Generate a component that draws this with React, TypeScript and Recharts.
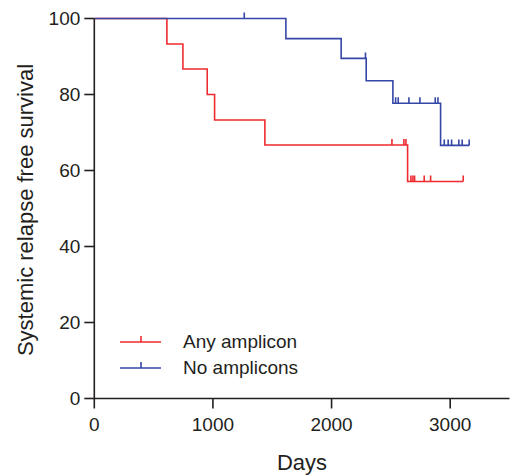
import React from "react"
import { LineChart, Line, XAxis, YAxis, Legend } from "recharts"

const xTicks = [0, 1000, 2000, 3000]
const yTicks = [0, 20, 40, 60, 80, 100]

// Any amplicon: step times (days) and survival (%) after each step
const anyTimes = [0, 612, 747, 952, 1014, 1438, 2641]
const anySurvival = [100, 93.3, 86.7, 80, 73.3, 66.7, 57.1]
const anyCensored = [2509, 2610, 2627, 2669, 2686, 2700, 2781, 2835, 3110]

// No amplicons
const noneTimes = [0, 1615, 2081, 2292, 2517, 2919]
const noneSurvival = [100, 94.7, 89.5, 83.6, 77.7, 66.6]
const noneCensored = [1264, 2286, 2540, 2562, 2652, 2745, 2874, 2897, 2950, 2983, 3012, 3073, 3101, 3160]

const RED = "#ee2b2e"
const BLUE = "#3447a6"
const INK = "#231f20"
const FONT = "'Liberation Sans', Arial, Helvetica, sans-serif"

type Pt = { x: number; y: number; censored: boolean }

function buildCurve(times: number[], surv: number[], censored: number[]): Pt[] {
  const pts: Pt[] = times.map((t, i) => ({ x: t, y: surv[i], censored: false }))
  censored.forEach((t) => {
    let y = surv[0]
    times.forEach((et, i) => {
      if (et <= t) y = surv[i]
    })
    pts.push({ x: t, y, censored: true })
  })
  return pts.sort((a, b) => a.x - b.x)
}

const anyData = buildCurve(anyTimes, anySurvival, anyCensored)
const noneData = buildCurve(noneTimes, noneSurvival, noneCensored)

function censorDot(color: string) {
  return (props: any) => {
    const { cx, cy, payload, index } = props
    if (!payload || !payload.censored) return <g key={`n-${index}`} />
    return <line key={`c-${index}`} x1={cx} x2={cx} y1={cy - 6} y2={cy} stroke={color} strokeWidth={1.6} />
  }
}

function LegendBox(props: any) {
  const payload = props.payload || []
  return (
    <div style={{ fontFamily: FONT, fontSize: 19, color: INK }}>
      {payload.map((p: any) => (
        <div key={p.value} style={{ display: "flex", alignItems: "center", height: 26 }}>
          <svg width={41} height={26} style={{ display: "block" }}>
            <line x1={0} x2={41} y1={13} y2={13} stroke={p.color} strokeWidth={1.6} />
            <line x1={21} x2={21} y1={7} y2={13} stroke={p.color} strokeWidth={1.6} />
          </svg>
          <span style={{ marginLeft: 22, lineHeight: "26px" }}>{p.value}</span>
        </div>
      ))}
    </div>
  )
}

export default function App() {
  const axisStyle = { stroke: INK, strokeWidth: 1.6 }
  const tickStyle = { fill: INK, fontSize: 19, fontFamily: FONT }
  return (
    <div style={{ position: "absolute", left: 0, top: 0, background: "#fff" }}>
      <LineChart width={514} height={476} margin={{ top: 18.5, right: 4.5, left: 0, bottom: 0 }}>
        <XAxis
          dataKey="x"
          type="number"
          domain={[0, 3500]}
          ticks={xTicks}
          allowDataOverflow
          height={77.5}
          tickSize={10}
          tickMargin={9.5}
          axisLine={axisStyle}
          tickLine={axisStyle}
          tick={tickStyle}
          label={{
            content: () => (
              <text x={302} y={470} textAnchor="middle" fill={INK} fontSize={22} fontFamily={FONT}>
                Days
              </text>
            ),
          }}
        />
        <YAxis
          type="number"
          domain={[0, 100]}
          ticks={yTicks}
          width={94.3}
          tickSize={10}
          tickMargin={4}
          axisLine={axisStyle}
          tickLine={axisStyle}
          tick={tickStyle}
          label={{
            content: () => (
              <text
                x={25}
                y={210}
                transform="rotate(-90 25 210)"
                textAnchor="middle"
                dominantBaseline="central"
                fill={INK}
                fontSize={22}
                fontFamily={FONT}
              >
                Systemic relapse free survival
              </text>
            ),
          }}
        />
        <Legend
          layout="vertical"
          align="center"
          verticalAlign="middle"
          content={<LegendBox />}
          wrapperStyle={{ left: 120, top: 329, width: 220, height: 52 }}
        />
        <Line
          name="Any amplicon"
          data={anyData}
          dataKey="y"
          type="stepAfter"
          stroke={RED}
          strokeWidth={1.6}
          dot={censorDot(RED)}
          activeDot={false}
          isAnimationActive={false}
        />
        <Line
          name="No amplicons"
          data={noneData}
          dataKey="y"
          type="stepAfter"
          stroke={BLUE}
          strokeWidth={1.6}
          dot={censorDot(BLUE)}
          activeDot={false}
          isAnimationActive={false}
        />
      </LineChart>
    </div>
  )
}
